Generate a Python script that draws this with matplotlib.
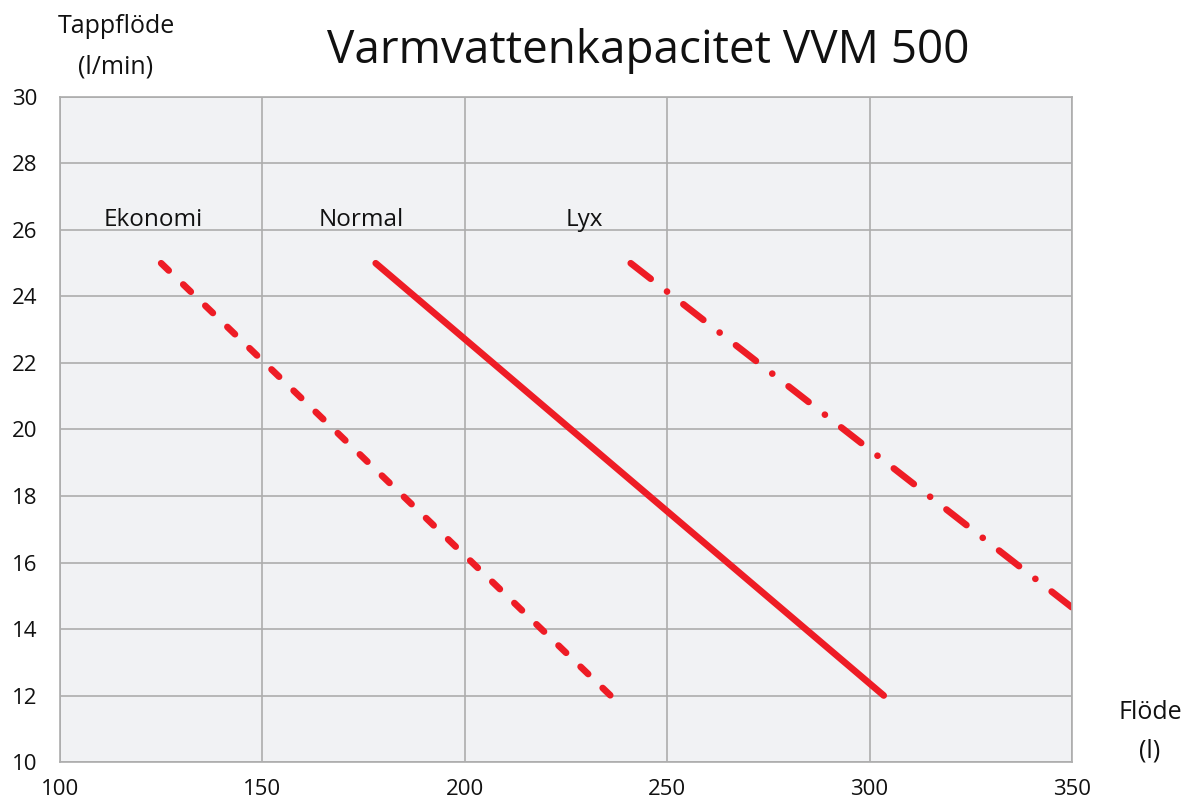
import matplotlib
matplotlib.use("Agg")
import matplotlib.pyplot as plt

plt.rcParams['font.family'] = ['Open Sans', 'DejaVu Sans']

# Data
ekonomi_x = [125, 236]
ekonomi_y = [25, 12]
normal_x = [178, 303.5]
normal_y = [25, 12]
lyx_x = [241, 350]
lyx_y = [25, 14.65]

labels = ["Ekonomi", "Normal", "Lyx"]
label_x = [123, 174.5, 229.5]
label_y = [26.3, 26.3, 26.3]

xticks = [100, 150, 200, 250, 300, 350]
yticks = [10, 12, 14, 16, 18, 20, 22, 24, 26, 28, 30]

red = '#ee1c25'
txt = '#111111'
lw = 4.8

fig = plt.figure(figsize=(11.92, 8.08), dpi=100)
ax = fig.add_axes([0.0503, 0.0569, 0.8490, 0.8231])
ax.set_facecolor('#f1f2f4')

ax.plot(ekonomi_x, ekonomi_y, color=red, lw=lw, dashes=(1.575, 3.02),
        dash_capstyle='round')
ax.plot(normal_x, normal_y, color=red, lw=lw, solid_capstyle='round')
ax.plot(lyx_x, lyx_y, color=red, lw=lw, dashes=(3.8, 3.1, 0.01, 3.1),
        dash_capstyle='round')

for t, x, y in zip(labels, label_x, label_y):
    ax.text(x, y, t, fontsize=17.5, ha='center', va='center', color=txt)

ax.set_xlim(100, 350)
ax.set_ylim(10, 30)
ax.set_xticks(xticks)
ax.set_yticks(yticks)
ax.tick_params(length=0, labelsize=16, colors=txt)
ax.tick_params(axis='y', pad=16)
ax.tick_params(axis='x', pad=12)
ax.grid(True, color='#adadad', lw=1.2)
ax.set_axisbelow(True)
for s in ax.spines.values():
    s.set_color('#adadad')
    s.set_linewidth(1.2)

fig.text(0.5436, 0.937, "Varmvattenkapacitet VVM 500", fontsize=33,
         ha='center', va='center', color=txt)
fig.text(0.0973, 0.967, "Tappflöde", fontsize=18, ha='center', va='center', color=txt)
fig.text(0.0973, 0.917, "(l/min)", fontsize=18, ha='center', va='center', color=txt)
fig.text(0.9648, 0.118, "Flöde", fontsize=18, ha='center', va='center', color=txt)
fig.text(0.9648, 0.071, "(l)", fontsize=18, ha='center', va='center', color=txt)

fig.savefig("out.png", dpi=100)
